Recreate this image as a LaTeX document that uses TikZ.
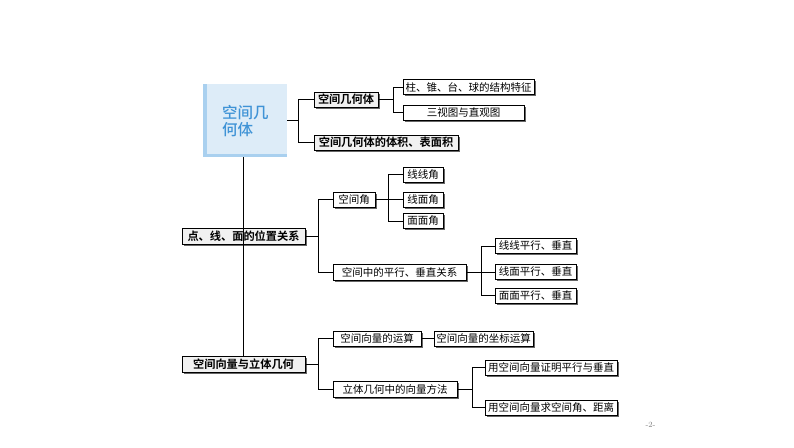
\documentclass[tikz,border=0pt]{standalone}
\usepackage{fontspec}
\newfontfamily\cjk{Noto Sans CJK SC}[BoldFont={Noto Sans CJK SC Bold}]
\newfontfamily\cjkm{Noto Sans CJK SC Medium}
\usetikzlibrary{shadows}
\definecolor{mainfill}{HTML}{DDECF8}
\definecolor{mainstrip}{HTML}{A9D0EF}
\definecolor{maintext}{HTML}{3F93D6}
\definecolor{boldfill}{HTML}{F1F1F1}
\tikzset{
  box/.style={draw=black, line width=0.9pt, fill=white, inner sep=0pt, minimum height=15pt,
    font=\cjk\fontsize{10.5}{12}\selectfont,
    drop shadow={shadow xshift=1.7pt, shadow yshift=-1.7pt, fill=black!60, opacity=1}},
  bbox/.style={box, fill=boldfill, font=\cjk\bfseries\fontsize{11.2}{13}\selectfont},
  link/.style={draw=black, line width=1pt}
}
\begin{document}
\begin{tikzpicture}[x=1pt,y=-1pt]
\useasboundingbox (0,0) rectangle (794,447);
% main box
\fill[mainfill] (203,84) rectangle (287,157);
\fill[mainstrip] (203,84) rectangle (207,157);
\fill[mainstrip] (203,153.5) rectangle (287,157);
\node[minimum width=84pt, minimum height=73pt, inner sep=0pt] (main) at (245,120.5) {};
\node[font=\cjkm\fontsize{15.5}{16.5}\selectfont, text=maintext, align=left, inner sep=0pt, anchor=west] (maint) at (222,121) {空间几\\何体};

% level 1 under main
\node[bbox, minimum width=64pt] (b1) at (346,99.5) {空间几何体};
\node[bbox, minimum width=144pt] (b2) at (386,142.5) {空间几何体的体积、表面积};
\node[box, minimum width=131pt] (c1) at (468.5,87) {柱、锥、台、球的结构特征};
\node[box, minimum width=121pt] (c2) at (463.5,112.5) {三视图与直观图};

% point-line-plane
\node[bbox, minimum width=123pt, minimum height=16pt] (p) at (243.5,236) {点、线、面的位置关系};
\node[box, minimum width=42pt] (d1) at (354,199.5) {空间角};
\node[box, minimum width=133pt, minimum height=16pt] (d2) at (399.5,272) {空间中的平行、垂直关系};
\node[box, minimum width=40pt] (e1) at (423,174.5) {线线角};
\node[box, minimum width=40pt] (e2) at (423,199.5) {线面角};
\node[box, minimum width=40pt] (e3) at (423,221) {面面角};
\node[box, minimum width=81pt] (f1) at (535.5,246) {线线平行、垂直};
\node[box, minimum width=81pt] (f2) at (535.5,272) {线面平行、垂直};
\node[box, minimum width=81pt] (f3) at (535.5,295.5) {面面平行、垂直};

% vectors
\node[bbox, minimum width=123pt, minimum height=16pt] (q) at (243.5,364) {空间向量与立体几何};
\node[box, minimum width=88pt] (g1) at (377,338.5) {空间向量的运算};
\node[box, minimum width=99pt] (g2) at (483.5,338.5) {空间向量的坐标运算};
\node[box, minimum width=124pt, minimum height=16pt] (g3) at (395,389) {立体几何中的向量方法};
\node[box, minimum width=132pt] (h1) at (551,367.5) {用空间向量证明平行与垂直};
\node[box, minimum width=132pt] (h2) at (551,407.5) {用空间向量求空间角、距离};

% junctions
\coordinate (j0) at ([xshift=11pt]main.east);
\coordinate (j1) at ([xshift=15pt]b1.east);
\coordinate (j2) at ([xshift=13pt]p.east);
\coordinate (j3) at ([xshift=13pt]d1.east);
\coordinate (j4) at ([xshift=15pt]d2.east);
\coordinate (j5) at ([xshift=13pt]q.east);
\coordinate (j6) at ([xshift=15pt]g3.east);

% connectors
\draw[link] (main.east) -- (j0);
\draw[link] (b1.west) -| (j0);
\draw[link] (b2.west) -| (j0);
\draw[link] (b1.east) -- (j1);
\draw[link] (c1.west) -| (j1);
\draw[link] (c2.west) -| (j1);
\draw[link] (p.east) -- (j2);
\draw[link] (d1.west) -| (j2);
\draw[link] (d2.west) -| (j2);
\draw[link] (d1.east) -- (j3);
\draw[link] (e1.west) -| (j3);
\draw[link] (e2.west) -| (j3);
\draw[link] (e3.west) -| (j3);
\draw[link] (d2.east) -- (j4);
\draw[link] (f1.west) -| (j4);
\draw[link] (f2.west) -| (j4);
\draw[link] (f3.west) -| (j4);
\draw[link] (q.east) -- (j5);
\draw[link] (g1.west) -| (j5);
\draw[link] (g3.west) -| (j5);
\draw[link] (g1.east) -- (g2.west);
\draw[link] (g3.east) -- (j6);
\draw[link] (h1.west) -| (j6);
\draw[link] (h2.west) -| (j6);
% trunk
\draw[link] (p.center |- main.south) -- (q.north);

\node[text=gray, font=\fontsize{8}{9}\selectfont, inner sep=0pt] (pg) at (650.5,425) {-2-};
\end{tikzpicture}
\end{document}
